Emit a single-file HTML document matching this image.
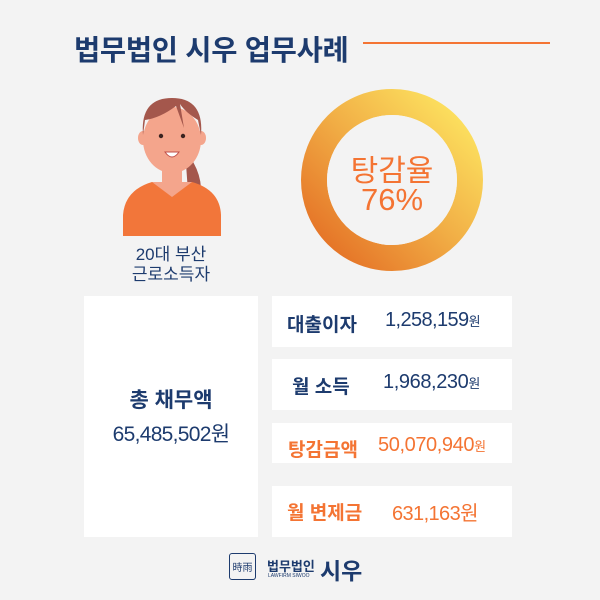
<!DOCTYPE html>
<html><head><meta charset="utf-8"><style>
body{margin:0;background:#f3f3f3;}
#c{position:relative;width:600px;height:600px;overflow:hidden;background:#f3f3f3;font-family:"Liberation Sans","Noto Sans CJK KR",sans-serif;}
.t{position:absolute;white-space:nowrap;font-weight:bold;}
.box{position:absolute;background:#fff;}
.navy{color:#1d3b6e}.or{color:#f47433}
</style></head><body><div id="c">
<div class="t navy" style="left:74px;top:28px;font-size:28.5px;letter-spacing:-0.3px">법무법인 시우 업무사례</div>
<div style="position:absolute;left:363px;top:42px;width:187px;height:2px;background:#f47433"></div>

<svg style="position:absolute;left:0;top:0" width="600" height="600">
<defs><linearGradient id="g" x1="0" y1="1" x2="1" y2="0">
<stop offset="0" stop-color="#e36a22"/><stop offset="0.5" stop-color="#f1ad45"/><stop offset="1" stop-color="#fee963"/></linearGradient></defs>
<circle cx="392" cy="180" r="78" fill="none" stroke="url(#g)" stroke-width="26"/>
<circle cx="392" cy="180" r="65" fill="#f3f3f3"/>
<path d="M185 150 Q205 175 200 200 Q215 215 212 225 L190 220 Z" fill="#a4574c"/>
<path d="M123 215 Q125 190 152 182 L192 182 Q220 190 221 215 L221 236 L123 236 Z" fill="#f2763a"/>
<path d="M152 182 L172 197 L192 182 Z" fill="#f4a58c"/>
<rect x="162" y="160" width="20" height="26" fill="#f4a58c"/>
<ellipse cx="172" cy="140" rx="29" ry="33" fill="#f4a58c"/>
<ellipse cx="143" cy="138" rx="5" ry="7" fill="#f4a58c"/>
<ellipse cx="201" cy="138" rx="5" ry="7" fill="#f4a58c"/>
<path d="M143 135 Q140 98 172 98 Q204 98 201 135 L198 120 Q185 112 180 104 L184 128 L176 106 Q160 118 145 120 Z" fill="#a4574c"/>
<circle cx="161" cy="136" r="2.2" fill="#3a2320"/><circle cx="183" cy="136" r="2.2" fill="#3a2320"/>
<path d="M165 152 Q172 162 179 152 Z" fill="#fff" stroke="#c0504a" stroke-width="1"/>
</svg>

<div class="t or" style="left:342px;top:146px;width:100px;text-align:center;font-size:30px;font-weight:normal">탕감율</div>
<div class="t or" style="left:342px;top:182px;width:100px;text-align:center;font-size:31px;font-weight:normal">76%</div>

<div class="t navy" style="left:110px;top:245px;width:122px;text-align:center;font-size:17px;font-weight:normal;line-height:20px">20대 부산<br>근로소득자</div>

<div class="box" style="left:84px;top:296px;width:174px;height:241px"></div>
<div class="t navy" style="left:84px;top:384px;width:174px;text-align:center;font-size:21px">총 채무액</div>
<div class="t navy" style="left:84px;top:418px;width:174px;text-align:center;font-size:21px;font-weight:normal;letter-spacing:-0.7px">65,485,502원</div>

<div class="box" style="left:272px;top:296px;width:240px;height:51px"></div>
<div class="box" style="left:272px;top:359px;width:240px;height:51px"></div>
<div class="box" style="left:272px;top:423px;width:240px;height:40px"></div>
<div class="box" style="left:272px;top:486px;width:240px;height:51px"></div>

<div class="t navy" style="left:287px;top:310px;font-size:19px">대출이자</div>
<div class="t navy" style="left:385px;top:309px;font-size:20px;font-weight:normal;letter-spacing:-0.6px">1,258,159<span style="font-size:13px">원</span></div>
<div class="t navy" style="left:292px;top:372px;font-size:19px">월 소득</div>
<div class="t navy" style="left:383px;top:371px;font-size:20px;font-weight:normal;letter-spacing:-0.4px">1,968,230<span style="font-size:13px">원</span></div>
<div class="t or" style="left:288px;top:435px;font-size:19px">탕감금액</div>
<div class="t or" style="left:378px;top:434px;font-size:20px;font-weight:normal;letter-spacing:-0.4px">50,070,940<span style="font-size:13px">원</span></div>
<div class="t or" style="left:287px;top:498px;font-size:19px">월 변제금</div>
<div class="t or" style="left:392px;top:497px;font-size:20px;font-weight:normal;letter-spacing:-0.6px">631,163원</div>

<div style="position:absolute;left:229px;top:553px;width:27px;height:27px;border:1.5px solid #1d3b6e;border-radius:3px;box-sizing:border-box;font-size:10px;color:#1d3b6e;font-family:'Noto Sans CJK KR',sans-serif;line-height:25px;text-align:center">時雨</div>
<div class="t navy" style="left:267px;top:556px;font-size:13px">법무법인</div>
<div class="t navy" style="left:268px;top:573px;font-size:5px;font-weight:normal">LAWFIRM SIWOO</div>
<div class="t navy" style="left:320px;top:552px;font-size:23px">시우</div>
</div></body></html>
